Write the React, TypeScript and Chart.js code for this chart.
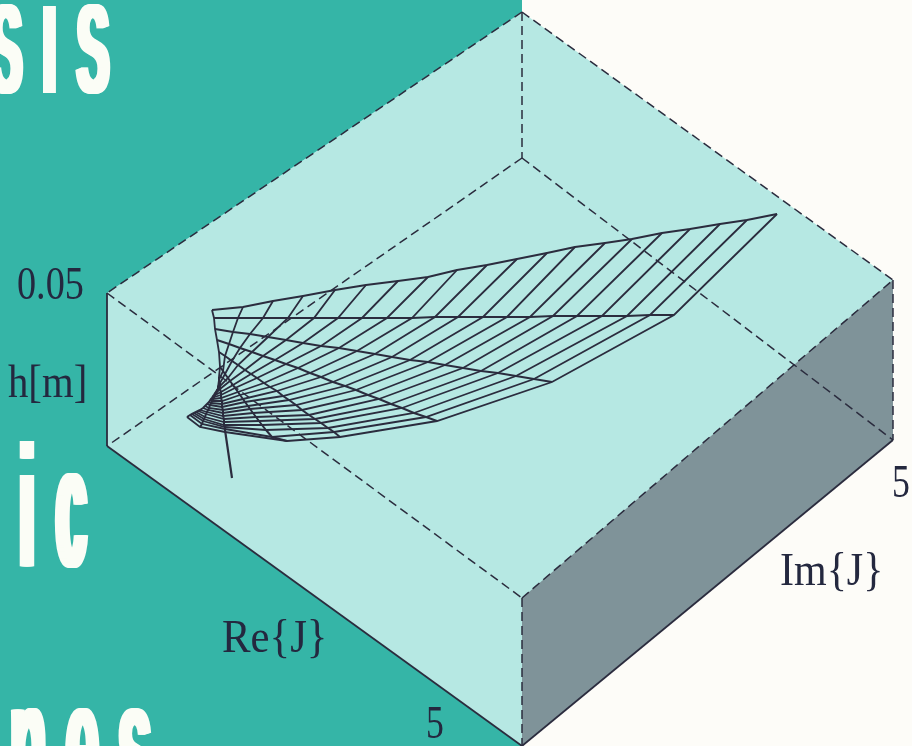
import React, { useEffect, useRef } from "react";
import { Chart, registerables } from "chart.js";

Chart.register(...registerables);

const W = 912;
const H = 746;

// Box vertices of the 3D plot, in picture units
const tealX = [0, 522, 522, 0];
const tealY = [0, 0, 746, 746];
const boxX = [522, 893, 893, 522, 107, 107];
const boxY = [12, 280, 440, 746, 446, 293];
const greyX = [522, 893, 893, 522];
const greyY = [598, 280, 440, 746];

const solidEdges = [
  [[107, 293], [107, 446]],
  [[107, 446], [522, 746]],
  [[522, 746], [893, 440]],
];
const dashedEdges = [
  [[522, 12], [893, 280]],
  [[522, 12], [107, 293]],
  [[107, 293], [522, 598]],
  [[522, 598], [893, 280]],
  [[522, 12], [522, 158]],
  [[522, 158], [107, 446]],
  [[522, 158], [893, 440]],
  [[522, 598], [522, 746]],
  [[893, 280], [893, 440]],
];

// Surface mesh: ribs fan out from the hub; rungs join the same node on each rib
const rib0X = [212, 243, 273, 303, 335, 366, 398, 428, 457, 487, 517, 547, 575, 605, 632, 662, 690, 720, 747, 777];
const rib0Y = [310, 307, 301, 296, 290, 285, 281, 277, 270, 265, 259, 253, 247, 243, 239, 233, 229, 224, 220, 214];
const rib1X = [214, 238, 263, 288, 314, 338, 362, 387, 412, 435, 458, 483, 507, 530, 553, 577, 602, 627, 650, 674];
const rib1Y = [318, 318, 318, 318, 318, 318, 318, 318, 318, 317, 317, 317, 317, 317, 316, 316, 316, 316, 315, 315];
const rib2X = [215, 233, 250, 268, 286, 303, 321, 339, 357, 375, 392, 410, 428, 445, 463, 481, 498, 516, 534, 552];
const rib2Y = [329, 332, 334, 337, 340, 343, 346, 348, 351, 354, 357, 360, 362, 365, 368, 371, 373, 376, 379, 382];
const rib3X = [217, 229, 240, 252, 263, 275, 286, 298, 310, 321, 333, 345, 356, 368, 379, 391, 402, 414, 426, 437];
const rib3Y = [340, 344, 348, 352, 356, 360, 364, 368, 373, 377, 382, 386, 390, 395, 399, 404, 408, 413, 417, 421];
const rib4X = [219, 225, 232, 238, 245, 251, 257, 264, 270, 277, 283, 289, 296, 302, 309, 315, 321, 328, 334, 340];
const rib4Y = [352, 356, 361, 365, 370, 374, 378, 383, 387, 391, 396, 400, 405, 410, 415, 419, 423, 428, 432, 437];
const rib5X = [220, 223, 225, 228, 230, 233, 235, 238, 240, 243, 245, 248, 250, 253, 256, 259, 262, 266, 272, 287];
const rib5Y = [367, 371, 374, 378, 381, 385, 388, 392, 395, 399, 402, 406, 409, 413, 417, 421, 425, 430, 437, 441];
const rib6X = [219, 219, 220, 220, 220, 221, 221, 221, 222, 222, 222, 223, 223, 223, 224, 224, 224, 225, 225, 225];
const rib6Y = [377, 380, 383, 386, 389, 392, 395, 398, 401, 404, 407, 410, 413, 416, 419, 422, 425, 427, 429, 432];
const rib7X = [219, 218, 218, 217, 216, 215, 214, 213, 212, 211, 210, 209, 208, 207, 206, 205, 204, 203, 202, 200];
const rib7Y = [385, 387, 389, 391, 393, 395, 397, 399, 401, 403, 405, 408, 410, 412, 414, 417, 419, 421, 424, 427];
const rib8X = [219, 218, 217, 216, 215, 214, 213, 212, 211, 209, 207, 205, 203, 200, 198, 196, 194, 192, 190, 187];
const rib8Y = [387, 389, 390, 392, 393, 395, 396, 398, 399, 402, 404, 406, 408, 410, 411, 412, 413, 414, 415, 417];
const stemX = [225, 232];
const stemY = [430, 478];

const ribXs = [rib0X, rib1X, rib2X, rib3X, rib4X, rib5X, rib6X, rib7X, rib8X];
const ribYs = [rib0Y, rib1Y, rib2Y, rib3Y, rib4Y, rib5Y, rib6Y, rib7Y, rib8Y];

// Axis labels
const axisLabels = ["0.05", "h[m]", "5", "Im{J}", "Re{J}", "5"];
const axisLabelX = [17, 8, 892, 780, 222, 426];
const axisLabelY = [299, 397, 497, 585, 652, 738];
const axisLabelStretch = [0.91, 0.97, 0.85, 1.0, 1.02, 0.85];

// Cover lettering
const coverWords = ["SIS", "pic", "nes"];
const coverX = [-10, -35, 10];
const coverY = [93, 566, 801];
const coverSize = [130, 180, 180];
const coverStretchX = [0.37, 0.3, 0.33];
const coverStretchY = [0.97, 0.96, 0.96];
const coverTracking = [56, 72, 59];
const coverBold = [6, 7, 6];

const INK = "#2b2c3e";
const TEAL = "#35b5a7";
const AQUA = "#b6e8e3";
const GREY = "#7f9399";
const PAPER = "#fdfcf8";

const pts = (xs: number[], ys: number[]) => xs.map((x, i) => ({ x, y: ys[i] }));

const polygon = (xs: number[], ys: number[], color: string) => ({
  data: pts([...xs, xs[0]], [...ys, ys[0]]),
  showLine: true,
  fill: "shape",
  backgroundColor: color,
  borderColor: color,
  borderWidth: 0,
  pointRadius: 0,
});
const stroke = (data: { x: number; y: number }[], width: number, dash: number[] = []) => ({
  data,
  showLine: true,
  fill: false,
  borderColor: INK,
  borderWidth: width,
  borderDash: dash,
  pointRadius: 0,
  tension: 0,
});

const lettering = {
  id: "lettering",
  afterDatasetsDraw(chart: any) {
    const { ctx, scales } = chart;
    const px = (v: number) => scales.x.getPixelForValue(v);
    const py = (v: number) => scales.y.getPixelForValue(v);

    ctx.save();
    ctx.textBaseline = "alphabetic";
    ctx.fillStyle = "#24283f";
    axisLabels.forEach((t, i) => {
      ctx.save();
      ctx.translate(px(axisLabelX[i]), py(axisLabelY[i]));
      ctx.scale(axisLabelStretch[i], 1.08);
      ctx.font = '42px "Liberation Serif"';
      ctx.fillText(t, 0, 0);
      ctx.restore();
    });

    ctx.fillStyle = "#fbfdf6";
    coverWords.forEach((t, i) => {
      // Horizontal thickening: repeat the word with small sideways offsets
      for (let dx = -coverBold[i] / 2; dx <= coverBold[i] / 2; dx += 1) {
        ctx.save();
        ctx.translate(px(coverX[i]) + dx, py(coverY[i]));
        ctx.scale(coverStretchX[i], coverStretchY[i]);
        ctx.font = `bold ${coverSize[i]}px "Liberation Sans"`;
        (ctx as any).letterSpacing = `${coverTracking[i]}px`;
        ctx.fillText(t, 0, 0);
        ctx.restore();
      }
    });
    ctx.restore();
  },
};

export default function App() {
  const ref = useRef<HTMLCanvasElement | null>(null);
  useEffect(() => {
    if (!ref.current) return;
    const datasets: any[] = [
      polygon(tealX, tealY, TEAL),
      polygon(boxX, boxY, AQUA),
      polygon(greyX, greyY, GREY),
      ...dashedEdges.map((e) => stroke(e.map(([x, y]) => ({ x, y })), 1.5, [9, 5])),
      ...solidEdges.map((e) => stroke(e.map(([x, y]) => ({ x, y })), 1.8)),
      ...ribXs.map((xs, r) => stroke(pts(xs, ribYs[r]), 2)),
      ...rib0X.map((_, n) => stroke(ribXs.map((xs, r) => ({ x: xs[n], y: ribYs[r][n] })), 1.8)),
      stroke(pts(stemX, stemY), 2.2),
    ];
    datasets.forEach((d, i) => {
      d.order = datasets.length - i;
    });
    const chart = new Chart(ref.current, {
      type: "scatter",
      data: { datasets },
      options: {
        animation: false,
        responsive: false,
        layout: { padding: 0 },
        plugins: { legend: { display: false }, tooltip: { enabled: false }, title: { display: false } },
        scales: {
          x: { type: "linear", min: 0, max: W, display: false },
          y: { type: "linear", min: 0, max: H, reverse: true, display: false },
        },
      },
      plugins: [lettering],
    } as any);
    return () => chart.destroy();
  }, []);
  return (
    <div style={{ position: "fixed", left: 0, top: 0, width: W, height: H, background: PAPER }}>
      <canvas ref={ref} width={W} height={H} style={{ display: "block" }} />
    </div>
  );
}
